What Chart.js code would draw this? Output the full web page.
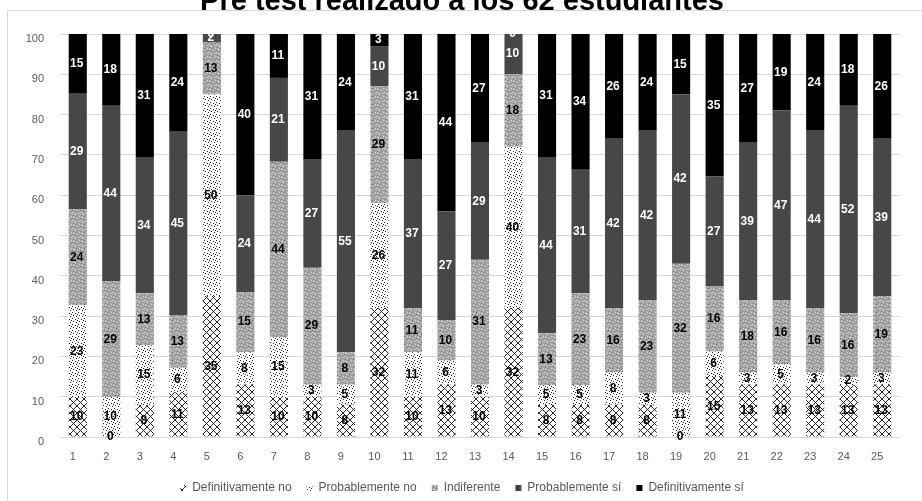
<!DOCTYPE html>
<html>
<head>
<meta charset="utf-8">
<title>Pre test</title>
<script src="https://cdn.jsdelivr.net/npm/chart.js@4.4.1/dist/chart.umd.min.js"></script>
<style>
  html, body { margin: 0; padding: 0; background: #fff; }
  #frame { position: absolute; left: 7px; top: 10px; width: 1000px; height: 1000px;
           border-left: 1px solid #d9d9d9; border-top: 1px solid #d9d9d9; }
  #wrap { position: absolute; left: 0; top: 0; width: 922px; height: 501px; }
</style>
</head>
<body>
<div id="frame"></div>
<div id="wrap"><canvas id="chart1" width="922" height="501"></canvas></div>
<script>
'use strict';

var categories = ['1','2','3','4','5','6','7','8','9','10','11','12','13',
                  '14','15','16','17','18','19','20','21','22','23','24','25'];
var seriesNames = ['Definitivamente no', 'Probablemente no', 'Indiferente',
                   'Probablemente sí', 'Definitivamente sí'];

var definitivamenteNo = [10, 0, 8, 11, 35, 13, 10, 10, 8, 32, 10, 13, 10, 32, 8, 8, 8, 8, 0, 15, 13, 13, 13, 13, 13];
var probablementeNo   = [23, 10, 15, 6, 50, 8, 15, 3, 5, 26, 11, 6, 3, 40, 5, 5, 8, 3, 11, 6, 3, 5, 3, 2, 3];
var indiferente       = [24, 29, 13, 13, 13, 15, 44, 29, 8, 29, 11, 10, 31, 18, 13, 23, 16, 23, 32, 16, 18, 16, 16, 16, 19];
var probablementeSi   = [29, 44, 34, 45, 2, 24, 21, 27, 55, 10, 37, 27, 29, 10, 44, 31, 42, 42, 42, 27, 39, 47, 44, 52, 39];
var definitivamenteSi = [15, 18, 31, 24, 0, 40, 11, 31, 24, 3, 31, 44, 27, 0, 31, 34, 26, 24, 15, 35, 27, 19, 24, 18, 26];

var yTickStep = 10;
var yMax = 100;


// small canvas patterns that stand in for the Excel fills
function makePattern(kind) {
  var c = document.createElement('canvas');
  var g;
  if (kind === 'lattice') {
    c.width = 7; c.height = 7;
    g = c.getContext('2d');
    g.fillStyle = '#fff';
    g.fillRect(0, 0, 7, 7);
    g.strokeStyle = '#111';
    g.lineWidth = 0.9;
    g.beginPath();
    g.moveTo(0, 0); g.lineTo(7, 7);
    g.moveTo(7, 0); g.lineTo(0, 7);
    g.stroke();
  } else if (kind === 'dots') {
    c.width = 6; c.height = 6;
    g = c.getContext('2d');
    g.fillStyle = '#fff';
    g.fillRect(0, 0, 6, 6);
    g.fillStyle = '#222';
    [[0, 0], [3, 1], [1, 3], [4, 4], [5, 2]].forEach(function (p) {
      g.fillRect(p[0], p[1], 1, 1);
    });
  } else {
    c.width = 8; c.height = 8;
    g = c.getContext('2d');
    g.fillStyle = '#a6a6a6';
    g.fillRect(0, 0, 8, 8);
    g.fillStyle = '#d6d6d6';
    [[1, 1], [2, 1], [5, 2], [6, 5], [2, 5], [3, 6], [0, 4], [7, 0]].forEach(function (p) {
      g.fillRect(p[0], p[1], 1, 1);
    });
    g.fillStyle = '#707070';
    [[4, 0], [0, 2], [6, 3], [3, 3], [1, 7], [5, 6]].forEach(function (p) {
      g.fillRect(p[0], p[1], 1, 1);
    });
  }
  var ctx = document.getElementById('chart1').getContext('2d');
  return ctx.createPattern(c, 'repeat');
}


function toPercent(values, i) {
  var total = definitivamenteNo[i] + probablementeNo[i] + indiferente[i] +
              probablementeSi[i] + definitivamenteSi[i];
  return values[i] / total * 100;
}


// writes the raw count in the middle of every stacked segment
var segmentLabels = {
  id: 'segmentLabels',
  afterDatasetsDraw: function (chart) {
    var ctx = chart.ctx;
    ctx.save();
    ctx.font = 'bold 12px "Liberation Sans", Arial, sans-serif';
    ctx.textAlign = 'center';
    ctx.textBaseline = 'middle';
    chart.data.datasets.forEach(function (ds, di) {
      var meta = chart.getDatasetMeta(di);
      ctx.fillStyle = ds.labelColor;
      meta.data.forEach(function (bar, i) {
        var p = bar.getProps(['x', 'y', 'base'], true);
        ctx.fillText(String(ds.raw[i]), p.x - 1, (p.y + p.base) / 2);
      });
    });
    ctx.restore();
  }
};


function buildDatasets() {
  var raws = [definitivamenteNo, probablementeNo, indiferente, probablementeSi, definitivamenteSi];
  var fills = [makePattern('lattice'), makePattern('dots'), makePattern('mottle'), '#474747', '#000000'];
  var labelColors = ['#000', '#000', '#000', '#fff', '#fff'];
  return raws.map(function (raw, k) {
    return {
      label: seriesNames[k],
      raw: raw,
      data: raw.map(function (v, i) { return toPercent(raw, i); }),
      backgroundColor: fills[k],
      borderWidth: 0,
      labelColor: labelColors[k],
      barPercentage: 0.54,
      categoryPercentage: 1
    };
  });
}


function renderChart() {
  var ctx = document.getElementById('chart1').getContext('2d');
  var axisFont = { family: '"Liberation Sans", Arial, sans-serif', size: 11 };
  new Chart(ctx, {
    type: 'bar',
    data: { labels: categories, datasets: buildDatasets() },
    options: {
      responsive: false,
      animation: false,
      events: [],
      layout: { padding: { left: 25, right: 23, top: 0, bottom: -3 } },
      scales: {
        x: {
          stacked: true,
          grid: { display: false, drawTicks: false },
          border: { display: false },
          ticks: { color: '#595959', font: axisFont, padding: 13.4, labelOffset: -5, maxRotation: 0 },
          afterFit: function (scale) { scale.height = 30; }
        },
        y: {
          stacked: true,
          min: 0,
          max: yMax,
          grid: { color: '#d9d9d9', drawTicks: false },
          border: { display: false },
          ticks: { stepSize: yTickStep, color: '#595959', font: axisFont, padding: 17, labelOffset: 5 },
          afterFit: function (scale) { scale.width = 36; }
        }
      },
      plugins: {
        title: {
          display: true,
          text: 'Pre test realizado a los 62 estudiantes',
          color: '#000',
          font: { family: '"Liberation Sans", Arial, sans-serif', size: 29, weight: 'bold' },
          padding: { top: -15.9, bottom: 15.1 }
        },
        legend: {
          position: 'bottom',
          labels: {
            color: '#595959',
            font: { family: '"Liberation Sans", Arial, sans-serif', size: 12 },
            boxWidth: 6,
            boxHeight: 6,
            padding: 15
          }
        },
        tooltip: { enabled: false }
      }
    },
    plugins: [segmentLabels]
  });
}

renderChart();
</script>
</body>
</html>
